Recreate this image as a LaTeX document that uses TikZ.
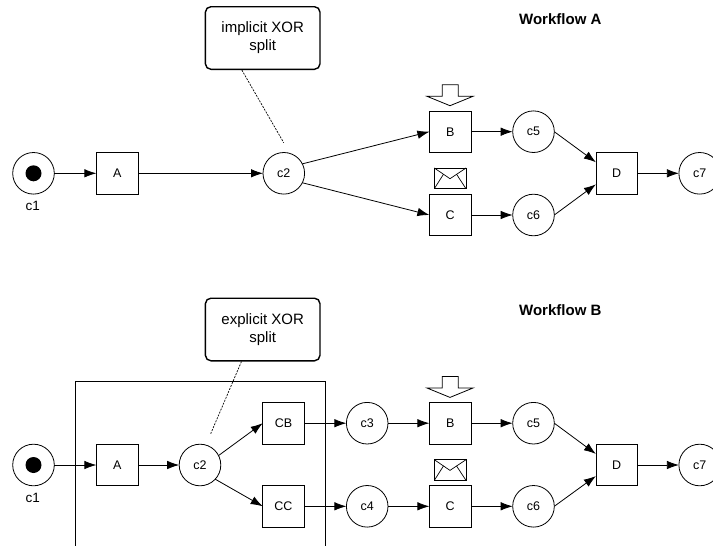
\documentclass[tikz,border=0pt]{standalone}
\usepackage{fontspec}
\setmainfont{Liberation Sans}
\usetikzlibrary{arrows.meta,calc}
\tikzset{
  place/.style={circle,draw=black,line width=0.8pt,minimum size=41.6pt,inner sep=0pt,outer sep=0pt,font=\fontsize{12.5}{15}\selectfont},
  token/.style={circle,fill=black,minimum size=16pt,inner sep=0pt,outer sep=0pt},
  task/.style={rectangle,draw=black,line width=0.8pt,minimum size=41.6pt,inner sep=0pt,outer sep=0pt,font=\fontsize{12.5}{15}\selectfont},
  flow/.style={draw=black,line width=0.8pt,-{Latex[length=12pt,width=8.5pt]}},
  callout/.style={rectangle,rounded corners=5.5pt,draw=black,line width=1.4pt,minimum width=114.6pt,minimum height=62.6pt,inner sep=0pt,align=center,font=\fontsize{15}{18}\selectfont},
  note/.style={draw=black,line width=0.7pt,dash pattern=on 2pt off 1.2pt},
  heading/.style={font=\fontsize{15}{18}\selectfont\bfseries,inner sep=0pt},
  caption/.style={font=\fontsize{13.5}{16}\selectfont,inner sep=0pt},
  frame/.style={draw=black,line width=0.8pt},
  glyphshape/.style={draw=black,line width=0.8pt,fill=white},
  glyphline/.style={draw=black,line width=0.7pt}
}
\newcommand{\pushmark}[1]{%
  \draw[glyphshape,yshift=#1] (442.3,84.7) -- (458.3,84.7) -- (458.3,96.3) -- (473,96.3) -- (450,105.7) -- (427,96.3) -- (442.3,96.3) -- cycle;}
\newcommand{\envmark}[1]{%
  \begin{scope}[yshift=#1]
    \draw[glyphshape] (434.3,168) rectangle (466,188.7);
    \draw[glyphline] (434.3,168) -- (450,178.7) -- (466,168);
    \draw[glyphline] (434.3,188.7) -- (443.5,174.2);
    \draw[glyphline] (466,188.7) -- (456.5,174.2);
  \end{scope}}
\begin{document}
\begin{tikzpicture}[x=1pt,y=-1pt]
\useasboundingbox (0,0) rectangle (713,546);
\clip (0,0) rectangle (713,546);
\fill[white] (0,0) rectangle (713,546);

% Workflow A
\node[heading] (titleA) at (560.3,18.7) {Workflow A};
\node[callout] (noteA) at (262.7,38) {implicit XOR\\split};
\node[place] (Ac1) at (33.5,173.3) {};
\node[token] (Atok) at (33.5,173.3) {};
\node[caption] (Ac1lab) at (32.7,206.3) {c1};
\node[task] (AA) at (117.2,173.3) {A};
\node[place] (Ac2) at (283.8,173.3) {c2};
\node[task] (AB) at (450.2,131.7) {B};
\node[task] (AC) at (450.2,215) {C};
\node[place] (Ac5) at (533.5,131.7) {c5};
\node[place] (Ac6) at (533.5,215) {c6};
\node[task] (AD) at (616.7,173.3) {D};
\node[place] (Ac7) at (699.7,173.3) {c7};
\coordinate (AnoteEnd) at (283.7,142.7);
\draw[note] ($(noteA.south west)!0.32!(noteA.south east)$) -- (AnoteEnd);
\draw[flow] (Ac1) -- (AA);
\draw[flow] (AA) -- (Ac2);
\draw[flow] (Ac2.27) -- (AB.west);
\draw[flow] (Ac2.-27) -- (AC.west);
\draw[flow] (AB) -- (Ac5);
\draw[flow] (AC) -- (Ac6);
\draw[flow] (Ac5.east) -- (AD.152);
\draw[flow] (Ac6.east) -- (AD.208);
\draw[flow] (AD) -- (Ac7);
\pushmark{0pt}
\envmark{0pt}

% Workflow B
\node[heading] (titleB) at (560.3,309.7) {Workflow B};
\node[callout] (noteB) at (262.7,329.5) {explicit XOR\\split};
\coordinate (frameBL) at (75.7,546);
\coordinate (frameBR) at (325,546);
\draw[frame] (frameBL) |- (325,381.3) -- (frameBR);
\node[place] (Bc1) at (33.5,465) {};
\node[token] (Btok) at (33.5,465) {};
\node[caption] (Bc1lab) at (32.7,497.7) {c1};
\node[task] (BA) at (117.2,465) {A};
\node[place] (Bc2) at (200,465) {c2};
\node[task] (BCB) at (283.5,423.2) {CB};
\node[task] (BCC) at (283.5,506.3) {CC};
\node[place] (Bc3) at (367.2,423.2) {c3};
\node[place] (Bc4) at (367.2,506.3) {c4};
\node[task] (BB) at (450.2,423.2) {B};
\node[task] (BC) at (450.2,506.3) {C};
\node[place] (Bc5) at (533.5,423.2) {c5};
\node[place] (Bc6) at (533.5,506.3) {c6};
\node[task] (BD) at (616.7,465) {D};
\node[place] (Bc7) at (699.7,465) {c7};
\coordinate (BnoteEnd) at (210.7,433.7);
\draw[note] ($(noteB.south west)!0.317!(noteB.south east)$) -- (BnoteEnd);
\draw[flow] (Bc1) -- (BA);
\draw[flow] (BA) -- (Bc2);
\draw[flow] (Bc2.27) -- (BCB.west);
\draw[flow] (Bc2.-43) -- (BCC.west);
\draw[flow] (BCB) -- (Bc3);
\draw[flow] (BCC) -- (Bc4);
\draw[flow] (Bc3) -- (BB);
\draw[flow] (Bc4) -- (BC);
\draw[flow] (BB) -- (Bc5);
\draw[flow] (BC) -- (Bc6);
\draw[flow] (Bc5.east) -- (BD.152);
\draw[flow] (Bc6.east) -- (BD.208);
\draw[flow] (BD) -- (Bc7);
\pushmark{-291.7pt}
\envmark{-291.7pt}
\end{tikzpicture}
\end{document}
